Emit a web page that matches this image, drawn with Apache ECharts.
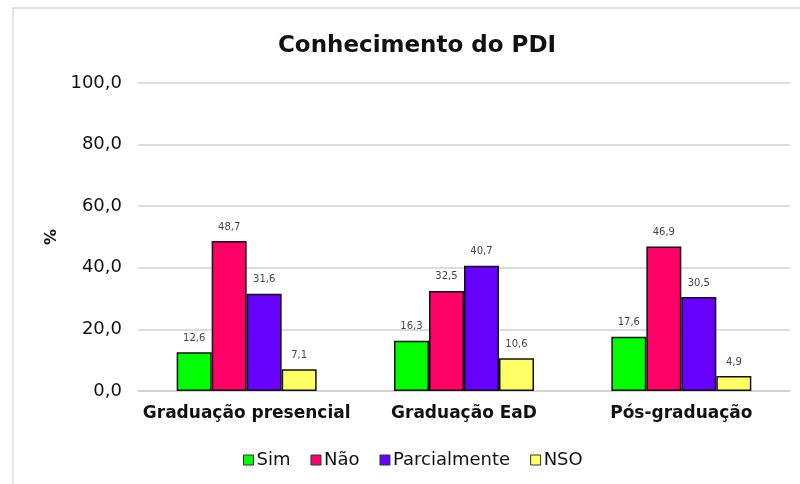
<!DOCTYPE html>
<html>
<head>
<meta charset="utf-8">
<script src="https://cdn.jsdelivr.net/npm/echarts@6/dist/echarts.min.js"></script>
<style>
  html, body { margin: 0; padding: 0; background: #fff; }
  #chart { width: 800px; height: 484px; }
</style>
</head>
<body>
<div id="chart"></div>
<script>
// categorias e séries
var categorias = ['Graduação presencial', 'Graduação EaD', 'Pós-graduação'];
var sim = [12.6, 16.3, 17.6];
var nao = [48.7, 32.5, 46.9];
var parcialmente = [31.6, 40.7, 30.5];
var nso = [7.1, 10.6, 4.9];
var nomesSeries = ['Sim', 'Não', 'Parcialmente', 'NSO'];
var cores = ['#00ff00', '#ff0066', '#6600ff', '#ffff66'];

var fonte = '"DejaVu Sans", Verdana, sans-serif';

function virgula(v) {
    return v.toFixed(1).replace('.', ',');
}

function serie(nome, dados, cor) {
    return {
        name: nome,
        type: 'bar',
        data: dados,
        barWidth: 35,
        barGap: '0%',
        itemStyle: { color: cor, borderColor: '#111', borderWidth: 1.5 },
        label: {
            show: true,
            position: 'top',
            distance: 9,
            fontFamily: fonte,
            fontSize: 10,
            color: '#444',
            formatter: function (p) { return virgula(p.value); }
        }
    };
}

var chart = echarts.init(document.getElementById('chart'));
chart.setOption({
    animation: false,
    backgroundColor: '#fff',
    graphic: [{
        type: 'rect',
        shape: { x: 13, y: 8, width: 800, height: 500 },
        style: { fill: 'none', stroke: '#dcdcdc', lineWidth: 1.5 },
        silent: true
    }],
    title: {
        text: 'Conhecimento do PDI',
        left: 412,
        top: 30,
        textAlign: 'center',
        textStyle: { fontFamily: fonte, fontSize: 23, fontWeight: 'bold', color: '#111' }
    },
    legend: {
        data: nomesSeries,
        bottom: 10,
        left: 238,
        itemWidth: 10,
        itemHeight: 10,
        itemGap: 20,
        icon: 'rect',
        itemStyle: { borderColor: '#333', borderWidth: 1 },
        textStyle: { fontFamily: fonte, fontSize: 18, color: '#111', padding: [0, 0, 0, -2] }
    },
    grid: { left: 138, right: 10, top: 83, bottom: 93 },
    xAxis: {
        type: 'category',
        data: categorias,
        axisTick: { show: false },
        axisLine: { lineStyle: { color: '#d0d0d0', width: 1.5 } },
        axisLabel: {
            interval: 0,
            fontFamily: fonte, fontSize: 17, fontWeight: 'bold', color: '#111', margin: 14
        }
    },
    yAxis: {
        type: 'value',
        min: 0,
        max: 100,
        interval: 20,
        name: '%',
        nameLocation: 'middle',
        nameGap: 75,
        nameTextStyle: { fontFamily: fonte, fontSize: 16, fontWeight: 'bold', color: '#111' },
        axisLine: { show: false },
        axisTick: { show: false },
        splitLine: { lineStyle: { color: '#d0d0d0', width: 1.5 } },
        axisLabel: {
            fontFamily: fonte, fontSize: 18, color: '#111', margin: 16,
            formatter: function (v) { return virgula(v); }
        }
    },
    series: [
        serie(nomesSeries[0], sim, cores[0]),
        serie(nomesSeries[1], nao, cores[1]),
        serie(nomesSeries[2], parcialmente, cores[2]),
        serie(nomesSeries[3], nso, cores[3])
    ]
});
</script>
</body>
</html>
